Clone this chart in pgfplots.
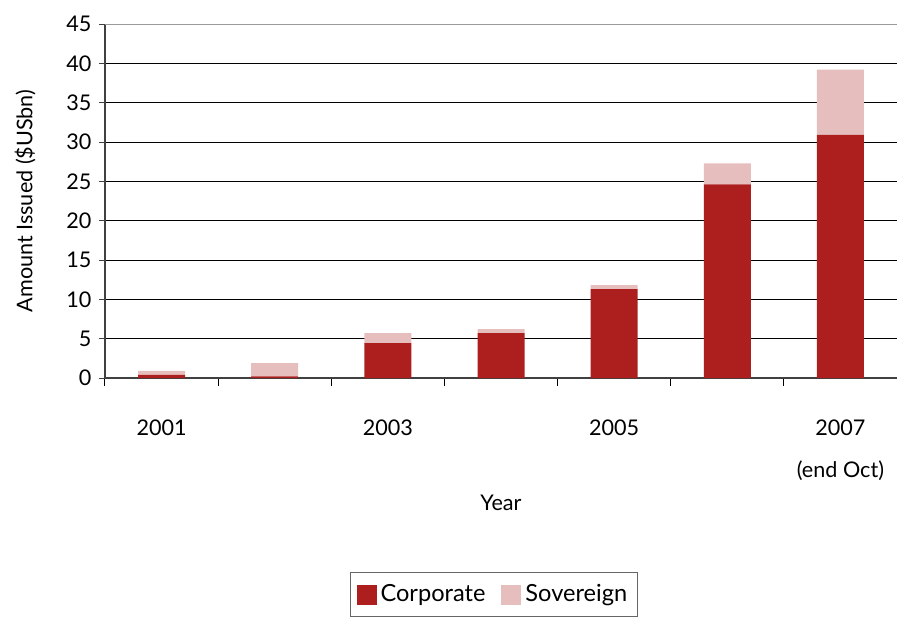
\documentclass[border=0pt]{standalone}
\usepackage{pgfplots}
\pgfplotsset{compat=1.18}
\usepackage{fontspec}
\setmainfont{Lato}
\definecolor{corp}{HTML}{AD1F1F}
\definecolor{sov}{HTML}{E6BEBE}
\begin{document}
\fontsize{10.8}{13}\selectfont
\begin{tikzpicture}[x=0.5pt,y=0.5pt]
\useasboundingbox (-105,-240) rectangle (792,378);
\begin{axis}[
  at={(0,0)}, anchor=south west,
  scale only axis,
  width=396pt, height=177pt,
  ybar stacked,
  bar width=23.5pt,
  xmin=-0.5, xmax=6.5,
  ymin=0, ymax=45,
  ytick={0,5,...,40},
  extra y ticks={45},
  extra y tick style={grid style={draw=gray!80}},
  ymajorgrids,
  grid style={draw=black, line width=0.5pt},
  axis x line*=bottom,
  axis y line*=left,
  axis line style={draw=black!75, line width=0.6pt},
  xtick={0,...,6},
  xticklabels={2001,,2003,,2005,,{2007\\[8pt](end Oct)}},
  xticklabel style={align=center, yshift=-14pt},
  major x tick style={draw=none},
  minor xtick={-0.5,0.5,...,6.5},
  minor x tick style={draw=black, line width=0.5pt},
  minor tick length=4pt,
  major tick length=3pt,
  tick align=outside,
  y tick style={draw=black!75, line width=0.5pt},
  /pgf/number format/assume math mode=true,
  tick label style={font=\fontsize{10.8}{13}\selectfont},
  ylabel={Amount Issued (\$USbn)},
  xlabel={Year},
  xlabel style={yshift=0pt},
  ylabel style={yshift=2pt},
  label style={font=\fontsize{10.8}{13}\selectfont},
  legend style={at={(0.491,-0.548)}, anchor=north, legend columns=2,
    draw=black!60, font=\fontsize{11.8}{14}\selectfont,
    inner ysep=4pt, inner xsep=3pt,
    /tikz/every even column/.append style={column sep=6pt}},
  legend image code/.code={\fill[#1] (0,-5pt) rectangle (10pt,5pt);},
]
\addplot[fill=corp, draw=none] coordinates {(0,0.4) (1,0.2) (2,4.45) (3,5.7) (4,11.3) (5,24.6) (6,30.9)};
\addplot[fill=sov, draw=none] coordinates {(0,0.5) (1,1.7) (2,1.25) (3,0.5) (4,0.5) (5,2.7) (6,8.3)};
\legend{Corporate, Sovereign}
\end{axis}
\end{tikzpicture}
\end{document}
